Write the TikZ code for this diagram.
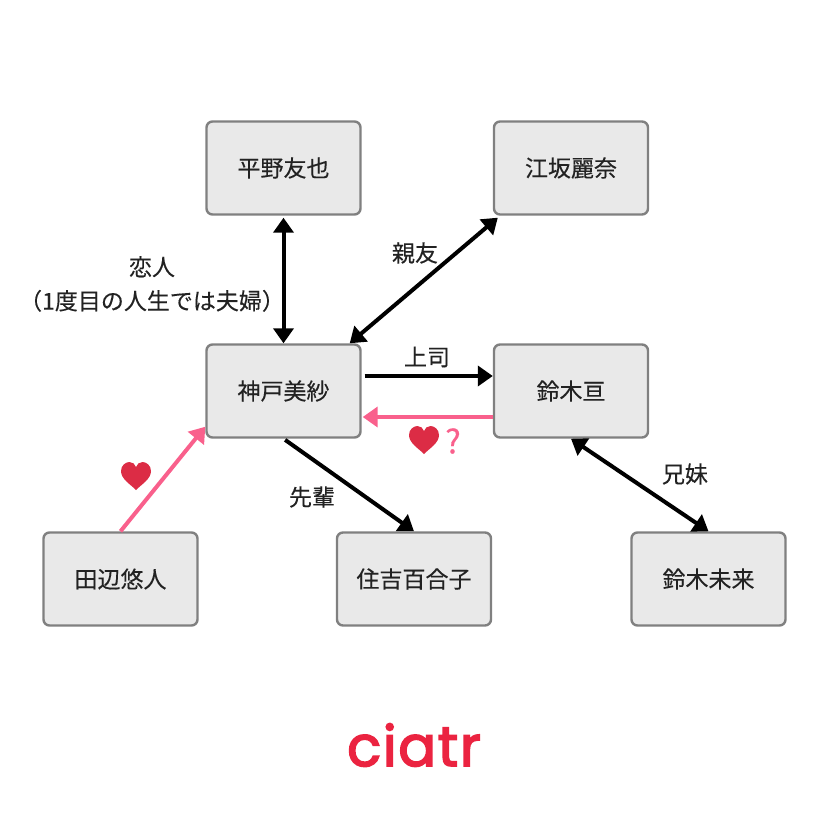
\documentclass[tikz,border=0pt]{standalone}
\usepackage{fontspec}
\usepackage{tikz}
\usetikzlibrary{arrows.meta}
\setmainfont{Noto Sans CJK JP}[FakeBold=0.25]
\newfontfamily\logofont{Poppins}[FakeBold=3,LetterSpace=3]
\definecolor{boxfill}{HTML}{E9E9E9}
\definecolor{boxline}{HTML}{808080}
\definecolor{inkgray}{HTML}{222222}
\definecolor{lovepink}{HTML}{F9608C}
\definecolor{heartred}{HTML}{DC2C45}
\definecolor{logored}{HTML}{EB2340}
\tikzset{
  person/.style={draw=boxline,fill=boxfill,line width=2.4pt,rounded corners=6pt,minimum width=154pt,minimum height=93pt,inner sep=0pt,text=inkgray,font=\fontsize{23}{23}\selectfont},
  rel/.style={text=inkgray,font=\fontsize{23}{34}\selectfont,inner sep=0pt,align=center},
  oneway/.style={-{Triangle[length=15pt,width=20pt]},line width=4pt,black},
  bothway/.style={{Triangle[length=15pt,width=20pt]}-{Triangle[length=15pt,width=20pt]},line width=4pt,black},
  loveway/.style={-{Triangle[length=15pt,width=20pt]},line width=4pt,lovepink},
  heart/.pic={
    \fill[heartred] (0,14) .. controls (-6,8) and (-15,3) .. (-15,-5)
      .. controls (-15,-11) and (-10,-14) .. (-6.5,-14)
      .. controls (-3.5,-14) and (-1,-12) .. (0,-9)
      .. controls (1,-12) and (3.5,-14) .. (6.5,-14)
      .. controls (10,-14) and (15,-11) .. (15,-5)
      .. controls (15,3) and (6,8) .. (0,14) -- cycle;
  }
}
\begin{document}
\begin{tikzpicture}[x=1pt,y=-1pt]
  \useasboundingbox (0,0) rectangle (828,828);
  % People
  \node[person] (tomoya) at (283.5,168) {平野友也};
  \node[person] (rena) at (571,168) {江坂麗奈};
  \node[person] (misa) at (283.5,391) {神戸美紗};
  \node[person] (wataru) at (571,391) {鈴木亘};
  \node[person] (yuto) at (120.5,579) {田辺悠人};
  \node[person] (yuriko) at (414,579) {住吉百合子};
  \node[person] (mirai) at (708.5,579) {鈴木未来};

  % Relations
  \draw[bothway,shorten <=2pt] (tomoya.south) -- (misa.north);
  \draw[bothway] ([xshift=-12pt]misa.north east) -- ([xshift=5pt,yshift=-2pt]rena.south west);
  \draw[oneway,shorten <=3pt] ([yshift=15pt]misa.east) -- ([yshift=15pt]wataru.west);
  \draw[loveway,shorten >=1pt] ([yshift=-26pt]wataru.west) -- ([yshift=-26pt]misa.east);
  \draw[oneway,shorten <=2pt] (misa.south) -- (yuriko.north);
  \draw[bothway] (wataru.south) -- (mirai.north);
  \draw[loveway] (yuto.north) -- ([yshift=12pt]misa.south west);

  % Labels
  \node[rel] (lovers) at (152,284) {恋人\\（1度目の人生では夫婦）};
  \node[rel] (friends) at (415,253) {親友};
  \node[rel] (boss) at (427,357) {上司};
  \node[rel] (senior) at (312,497) {先輩};
  \node[rel] (sibling) at (685,474) {兄妹};
  \pic at (136,476) {heart};
  \pic at (424,440) {heart};
  \node[rel,text=lovepink,font=\fontsize{33}{33}\selectfont] (maybe) at (453,441) {?};

  \node[text=logored,inner sep=0pt,font=\logofont\fontsize{56}{56}\selectfont] (logo) at (414,745) {ciatr};
\end{tikzpicture}
\end{document}
